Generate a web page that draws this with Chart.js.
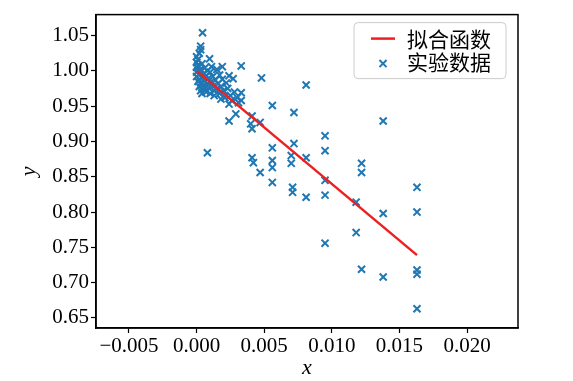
<!DOCTYPE html>
<html>
<head>
<meta charset="utf-8">
<script src="https://cdn.jsdelivr.net/npm/chart.js@4/dist/chart.umd.min.js"></script>
<style>
  html, body { margin: 0; padding: 0; background: #ffffff; }
  canvas { display: block; }
</style>
</head>
<body>
<canvas id="c" width="573" height="381" style="width:573px;height:381px"></canvas>
<script>
// ---- data ----
const expX = [
  0.00044, 0.0003, 0.0003, 0.00096, 0.0019, 0.0024, 0.0027, 0.0033, 0.0048, 0.0081,
  0.0033, 0.0033, 0.0031, 0.0024, 0.0018, 0.0029, 0.0024, 0.0056, 0.0072, 0.0041,
  0.0040, 0.0041, 0.0047, 0.0008, 0.0056, 0.0072, 0.0095, 0.0095, 0.0041, 0.0042,
  0.0056, 0.0056, 0.0070, 0.0070, 0.0081, 0.0047, 0.0056, 0.0071, 0.0071, 0.0081,
  0.0095, 0.0095, 0.0122, 0.0122, 0.0138, 0.0118, 0.0138, 0.0163, 0.0163, 0.0118,
  0.0095, 0.0122, 0.0138, 0.0163, 0.0163, 0.0163,
  0.0000, 0.0000, 0.0000, 0.0000, 0.0000, 0.0001, 0.0001, 0.0001, 0.0002, 0.0002,
  0.0002, 0.0003, 0.0003, 0.0003, 0.0004, 0.0004, 0.0004, 0.0005, 0.0005, 0.0006,
  0.0006, 0.0006, 0.0007, 0.0007, 0.0008, 0.0008, 0.0009, 0.0009, 0.0010, 0.0010,
  0.0011, 0.0011, 0.0012, 0.0012, 0.0013, 0.0013, 0.0014, 0.0015, 0.0015, 0.0016,
  0.0017, 0.0017, 0.0018, 0.0019, 0.0020, 0.0021, 0.0022, 0.0023, 0.0025, 0.0026,
  0.0028, 0.0030, 0.0002, 0.0001
];
const expY = [
  1.054, 1.035, 1.030, 1.017, 1.006, 0.993, 0.989, 1.007, 0.990, 0.980,
  0.969, 0.958, 0.955, 0.953, 0.960, 0.939, 0.929, 0.951, 0.941, 0.936,
  0.925, 0.918, 0.927, 0.884, 0.891, 0.897, 0.908, 0.887, 0.877, 0.870,
  0.873, 0.863, 0.880, 0.869, 0.877, 0.856, 0.842, 0.835, 0.828, 0.821,
  0.845, 0.824, 0.869, 0.856, 0.929, 0.814, 0.798, 0.835, 0.800, 0.771,
  0.756, 0.719, 0.708, 0.718, 0.712, 0.663,
  1.020, 1.012, 1.005, 0.998, 0.992, 0.985, 1.000, 1.008, 0.995, 0.988,
  0.978, 1.002, 0.972, 0.983, 1.010, 0.990, 0.968, 0.996, 0.980, 1.004,
  0.975, 0.986, 0.993, 0.970, 1.000, 0.982, 0.976, 0.990, 0.998, 0.968,
  0.985, 1.006, 0.978, 0.992, 0.972, 0.965, 0.987, 1.002, 0.975, 0.982,
  0.994, 0.968, 0.978, 0.988, 0.972, 0.962, 0.983, 0.975, 0.965, 0.958,
  0.970, 0.962, 1.025, 1.016
];
const fitX = [0.0, 0.0163];
const fitY = [1.0, 0.739];
const xTicks = [-0.005, 0.0, 0.005, 0.010, 0.015, 0.020];
const yTicks = [0.65, 0.70, 0.75, 0.80, 0.85, 0.90, 0.95, 1.00, 1.05];
const legendLabels = ['拟合函数', '实验数据'];
const axisTitles = { x: 'x', y: 'y' };

const BLUE = '#1f77b4';
const RED = 'rgb(236,32,32)';
const tickFont = { family: '"Liberation Serif", "DejaVu Serif", serif', size: 21 };
const titleFont = { family: '"Liberation Serif", serif', size: 22, style: 'italic', lineHeight: 1.2 };

const scatterPts = expX.map((x, i) => ({ x: x, y: expY[i] }));
const fitPts = fitX.map((x, i) => ({ x: x, y: fitY[i] }));

const frameAndLegend = {
  id: 'frameAndLegend',
  afterDraw(chart) {
    const { ctx, chartArea: a } = chart;
    ctx.save();
    // frame
    ctx.strokeStyle = '#000';
    ctx.lineWidth = 1.5;
    ctx.strokeRect(a.left, a.top, a.right - a.left, a.bottom - a.top);
    // legend box
    const bx = a.right - 164, by = a.top + 8, bw = 152, bh = 56, r = 4;
    ctx.beginPath();
    ctx.moveTo(bx + r, by);
    ctx.arcTo(bx + bw, by, bx + bw, by + bh, r);
    ctx.arcTo(bx + bw, by + bh, bx, by + bh, r);
    ctx.arcTo(bx, by + bh, bx, by, r);
    ctx.arcTo(bx, by, bx + bw, by, r);
    ctx.closePath();
    ctx.fillStyle = 'rgba(255,255,255,0.85)';
    ctx.fill();
    ctx.strokeStyle = '#cccccc';
    ctx.lineWidth = 1;
    ctx.stroke();
    // entries
    const ds0 = chart.data.datasets[0];
    const ds1 = chart.data.datasets[1];
    const row1 = by + 16, row2 = by + 39;
    ctx.strokeStyle = ds0.borderColor;
    ctx.lineWidth = ds0.borderWidth;
    ctx.beginPath();
    ctx.moveTo(bx + 17, row1);
    ctx.lineTo(bx + 41, row1);
    ctx.stroke();
    ctx.strokeStyle = ds1.pointBorderColor;
    ctx.fillStyle = ds1.pointBorderColor;
    ctx.lineWidth = ds1.pointBorderWidth;
    Chart.helpers.drawPoint(ctx, {
      pointStyle: 'crossRot', radius: ds1.pointRadius, borderWidth: ds1.pointBorderWidth
    }, bx + 29, row2 + 2);
    ctx.fillStyle = '#000';
    ctx.font = '21px "Noto Sans CJK SC", sans-serif';
    ctx.textBaseline = 'middle';
    ctx.textAlign = 'left';
    ctx.fillText(legendLabels[0], bx + 53, row1);
    ctx.fillText(legendLabels[1], bx + 53, row2);
    ctx.restore();
  }
};

new Chart(document.getElementById('c'), {
  data: {
    datasets: [
      {
        type: 'line', label: legendLabels[0], data: fitPts,
        borderColor: RED, backgroundColor: RED, borderWidth: 2.5,
        pointRadius: 0, fill: false, tension: 0
      },
      {
        type: 'scatter', label: legendLabels[1], data: scatterPts,
        pointStyle: 'crossRot', pointRadius: 5, pointBorderWidth: 2,
        borderColor: BLUE, backgroundColor: BLUE, pointBorderColor: BLUE,
        pointHoverRadius: 5
      }
    ]
  },
  options: {
    responsive: false,
    animation: false,
    devicePixelRatio: 1,
    layout: { padding: { left: 0, right: 55, top: 14, bottom: 0 } },
    plugins: { legend: { display: false }, tooltip: { enabled: false } },
    scales: {
      x: {
        type: 'linear', position: 'bottom',
        min: -0.00744, max: 0.02377,
        afterBuildTicks: s => { s.ticks = xTicks.map(v => ({ value: v })); },
        afterFit: s => { s.height = 53; },
        grid: { display: true, drawOnChartArea: false, drawTicks: true, tickLength: 5, tickColor: '#000', tickWidth: 1.2 },
        border: { display: true, color: '#000', width: 1.5 },
        ticks: {
          color: '#000', font: tickFont, padding: 1, maxRotation: 0, autoSkip: false,
          callback: v => (v < 0 ? '\u2212' : '') + Math.abs(v).toFixed(3)
        },
        title: { display: true, text: axisTitles.x, color: '#000', font: titleFont, padding: { top: 0, bottom: 0 } }
      },
      y: {
        type: 'linear', position: 'left',
        min: 0.6358, max: 1.0797,
        afterBuildTicks: s => { s.ticks = yTicks.map(v => ({ value: v })); },
        afterFit: s => { s.width = 96; },
        grid: { display: true, drawOnChartArea: false, drawTicks: true, tickLength: 5, tickColor: '#000', tickWidth: 1.2 },
        border: { display: true, color: '#000', width: 1.5 },
        ticks: {
          color: '#000', font: tickFont, padding: 2, autoSkip: false,
          callback: v => v.toFixed(2)
        },
        title: { display: true, text: axisTitles.y, color: '#000', font: titleFont, padding: { top: 16, bottom: 0 } }
      }
    }
  },
  plugins: [frameAndLegend]
});
</script>
</body>
</html>
